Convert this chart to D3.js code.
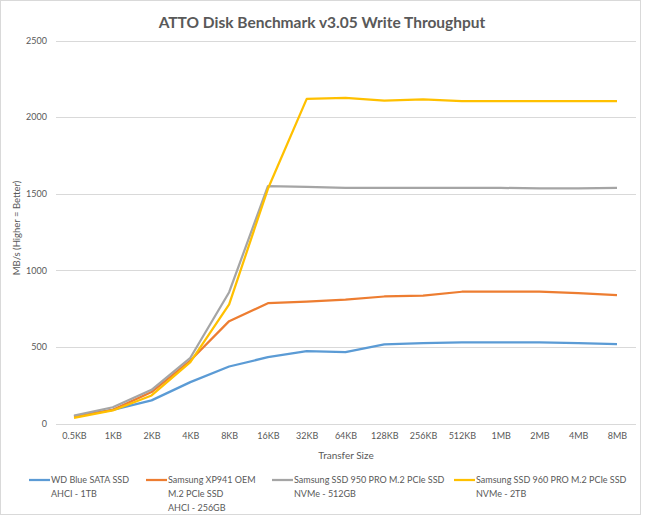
<!DOCTYPE html>
<html><head><meta charset="utf-8">
<script src="https://cdn.jsdelivr.net/npm/d3@7"></script>
<style>body{margin:0;background:#fff}svg{display:block}text{font-family:Lato,"Open Sans",sans-serif}</style>
</head><body><svg id="c" width="645" height="517"></svg>
<script>
const categories = ["0.5KB","1KB","2KB","4KB","8KB","16KB","32KB","64KB","128KB","256KB","512KB","1MB","2MB","4MB","8MB"];
const wdBlue   = [47, 89, 151, 270, 372, 433, 472, 466, 516, 524, 529, 530, 530, 524, 518];
const xp941    = [45, 89, 205, 411, 668, 785, 796, 809, 829, 835, 860, 860, 860, 851, 838];
const ssd950   = [52, 106, 220, 429, 857, 1549, 1545, 1538, 1538, 1538, 1538, 1538, 1534, 1534, 1538];
const ssd960   = [37, 85, 183, 400, 777, 1532, 2119, 2126, 2108, 2115, 2104, 2104, 2104, 2104, 2104];
const yTicks = [0, 500, 1000, 1500, 2000, 2500];
const seriesNames = [["WD Blue SATA SSD","AHCI - 1TB"],["Samsung XP941 OEM","M.2 PCIe SSD","AHCI - 256GB"],["Samsung SSD 950 PRO M.2 PCIe SSD","NVMe - 512GB"],["Samsung SSD 960 PRO M.2 PCIe SSD","NVMe - 2TB"]];
const seriesValues = [wdBlue, xp941, ssd950, ssd960];
const colors = ["#5B9BD5","#ED7D31","#A5A5A5","#FFC000"];

const svg = d3.select("#c");
svg.append("rect").attr("x",0.5).attr("y",0.5).attr("width",640).attr("height",514).attr("fill","#fff").attr("stroke","#d9d9d9");

const x = d3.scalePoint().domain(categories).range([74, 617]);
const y = d3.scaleLinear().domain([0,2500]).range([423.5, 40.5]);

const g = svg.append("g");
g.selectAll("line.grid").data(yTicks).join("line")
  .attr("x1",56).attr("x2",636).attr("y1",d=>Math.round(y(d))+0.5).attr("y2",d=>Math.round(y(d))+0.5)
  .attr("stroke","#d9d9d9").attr("stroke-width",1);

const yAxis = d3.axisLeft(y).tickValues(yTicks).tickFormat(d3.format("d")).tickSize(0).tickPadding(0);
svg.append("g").attr("transform","translate(47,0)").call(yAxis)
  .call(a=>a.select(".domain").remove())
  .selectAll("text").attr("font-size","9px").attr("fill","#595959").attr("font-family","Lato,'Open Sans',sans-serif");

const xAxis = d3.axisBottom(x).tickSize(0).tickPadding(0);
svg.append("g").attr("transform","translate(0,433)").call(xAxis)
  .call(a=>a.select(".domain").remove())
  .selectAll("text").attr("font-size","9px").attr("fill","#595959").attr("font-family","Lato,'Open Sans',sans-serif");

const line = d3.line().x((d,i)=>x(categories[i])).y(d=>y(d));
seriesValues.forEach((vals,k)=>{
  svg.append("path").datum(vals).attr("d",line).attr("fill","none")
    .attr("stroke",colors[k]).attr("stroke-width",2.25).attr("stroke-linejoin","round");
});

svg.append("text").attr("x",322).attr("y",28).attr("text-anchor","middle")
  .attr("font-size","15.5px").attr("font-weight","bold").attr("fill","#595959")
  .text("ATTO Disk Benchmark v3.05 Write Throughput");
svg.append("text").attr("transform","translate(20,228) rotate(-90)").attr("text-anchor","middle")
  .attr("font-size","9.5px").attr("fill","#595959").text("MB/s (Higher = Better)");
svg.append("text").attr("x",346).attr("y",459).attr("text-anchor","middle")
  .attr("font-size","10px").attr("fill","#595959").text("Transfer Size");

const legX = [29,146,272,454];
seriesNames.forEach((lines,k)=>{
  const lg = svg.append("g").attr("transform",`translate(${legX[k]},480)`);
  lg.append("line").attr("x1",0).attr("x2",21).attr("y1",0).attr("y2",0).attr("stroke",colors[k]).attr("stroke-width",2.25);
  lines.forEach((t,j)=>{
    lg.append("text").attr("x",22).attr("y",j*14+3).attr("font-size","9px").attr("fill","#595959").text(t);
  });
});
</script></body></html>
